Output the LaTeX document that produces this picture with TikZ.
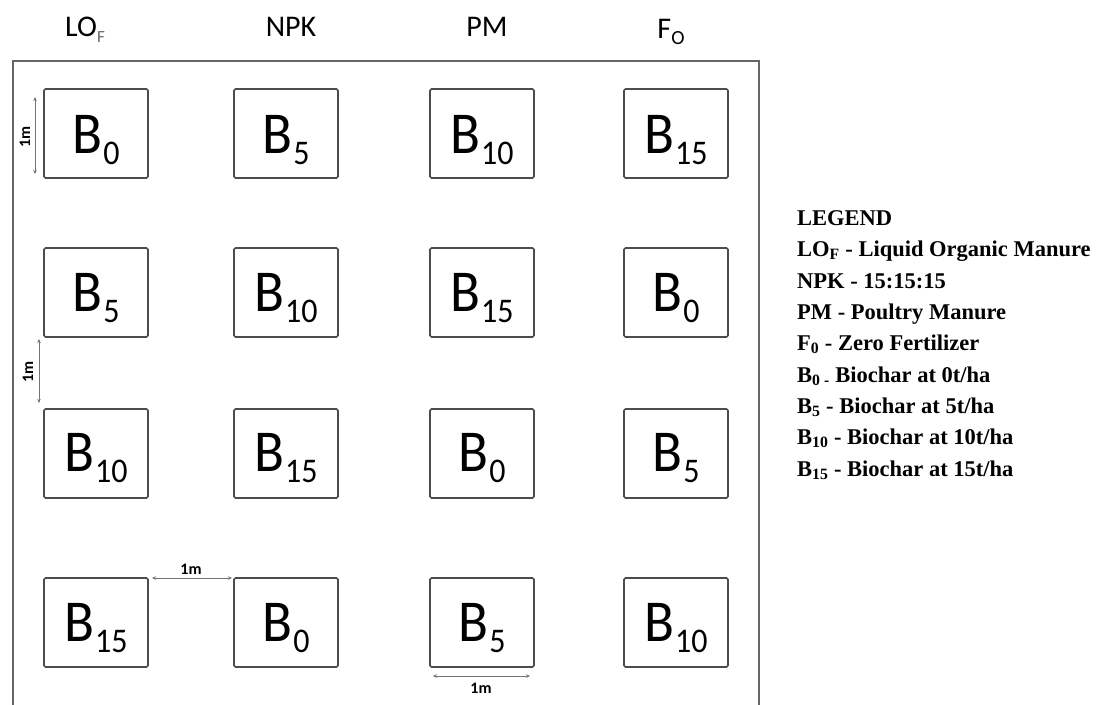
\documentclass[tikz,border=0pt]{standalone}
\usepackage{fontspec}
\setmainfont{Liberation Serif}
\newfontfamily\carlito{Carlito}
\usetikzlibrary{arrows.meta}
\newcommand\plotlab[1]{\scalebox{1}[1.08]{\carlito\fontsize{55}{55}\selectfont B\kern1pt\raisebox{-11pt}{\fontsize{32}{32}\selectfont #1}}}
\tikzset{
  plotbox/.style={draw=black!70, line width=1.6pt, rounded corners=1.5pt},
  blab/.style={anchor=base, inner sep=0pt},
  hdr/.style={anchor=base, inner sep=0pt, font=\carlito\fontsize{30}{30}\selectfont},
  leg/.style={anchor=base west, inner sep=0pt, font=\bfseries\fontsize{22.5}{22.5}\selectfont},
  dimline/.style={draw=black!55, line width=0.8pt, {Stealth[length=4pt,width=3.5pt]}-{Stealth[length=4pt,width=3.5pt]}},
  dimlab/.style={inner sep=0pt, font=\carlito\bfseries\fontsize{16}{16}\selectfont},
  frame/.style={draw=black!60, line width=2.2pt}
}
\begin{document}
\begin{tikzpicture}[x=1pt,y=-1pt]
\useasboundingbox (0,0) rectangle (1097,704);
% outer field frame
\coordinate (fa) at (13,706);
\coordinate (fb) at (13,61);
\coordinate (fc) at (759,61);
\coordinate (fd) at (759,706);
\draw[frame] (fa) -- (fb) -- (fc) -- (fd);
% headers
\node[hdr] (h1) at (85,36) {LO\raisebox{-6pt}{\fontsize{17}{17}\selectfont\color{black!60}F}};
\node[hdr] (h2) at (291,36) {NPK};
\node[hdr] (h3) at (487,36) {PM};
\node[hdr] (h4) at (671,38) {F\raisebox{-6pt}{\fontsize{20}{20}\selectfont O}};
% plots
\foreach \cx in {44,234,430,624}{
  \foreach \ry in {89,248,409,578}{
    \draw[plotbox] (\cx,\ry) rectangle ++(104,89);
  }
}
% labels
\node[blab] (p11) at (96,153) {\plotlab{0}};
\node[blab] (p12) at (286,153) {\plotlab{5}};
\node[blab] (p13) at (482,153) {\plotlab{10}};
\node[blab] (p14) at (676,153) {\plotlab{15}};
\node[blab] (p21) at (96,311) {\plotlab{5}};
\node[blab] (p22) at (286,311) {\plotlab{10}};
\node[blab] (p23) at (482,311) {\plotlab{15}};
\node[blab] (p24) at (676,311) {\plotlab{0}};
\node[blab] (p31) at (96,471) {\plotlab{10}};
\node[blab] (p32) at (286,471) {\plotlab{15}};
\node[blab] (p33) at (482,471) {\plotlab{0}};
\node[blab] (p34) at (676,471) {\plotlab{5}};
\node[blab] (p41) at (96,641) {\plotlab{15}};
\node[blab] (p42) at (286,641) {\plotlab{0}};
\node[blab] (p43) at (482,641) {\plotlab{5}};
\node[blab] (p44) at (676,641) {\plotlab{10}};
% dimension lines
\coordinate (d1a) at (35,174);
\coordinate (d1b) at (35,97);
\draw[dimline] (d1a) -- (d1b);
\node[dimlab, rotate=90] (l1) at (25,137) {1m};
\coordinate (d2a) at (39,403);
\coordinate (d2b) at (39,339);
\draw[dimline] (d2a) -- (d2b);
\node[dimlab, rotate=90] (l2) at (28,372) {1m};
\coordinate (d3a) at (152,578);
\coordinate (d3b) at (232,578);
\draw[dimline] (d3a) -- (d3b);
\node[dimlab] (l3) at (191,569) {1m};
\coordinate (d4a) at (433,676);
\coordinate (d4b) at (530,676);
\draw[dimline] (d4a) -- (d4b);
\node[dimlab] (l4) at (481,688) {1m};
% legend
\node[leg] (g0) at (797,225) {LEGEND};
\node[leg] (g1) at (797,256.5) {LO\textsubscript{F} - Liquid Organic Manure};
\node[leg] (g2) at (797,288) {NPK - 15:15:15};
\node[leg] (g3) at (797,319) {PM - Poultry Manure};
\node[leg] (g4) at (797,350.5) {F\textsubscript{0} - Zero Fertilizer};
\node[leg] (g5) at (797,382) {B\textsubscript{0 -} Biochar at 0t/ha};
\node[leg] (g6) at (797,413) {B\textsubscript{5} - Biochar at 5t/ha};
\node[leg] (g7) at (797,444.5) {B\textsubscript{10} - Biochar at 10t/ha};
\node[leg] (g8) at (797,476) {B\textsubscript{15} - Biochar at 15t/ha};
\end{tikzpicture}
\end{document}
